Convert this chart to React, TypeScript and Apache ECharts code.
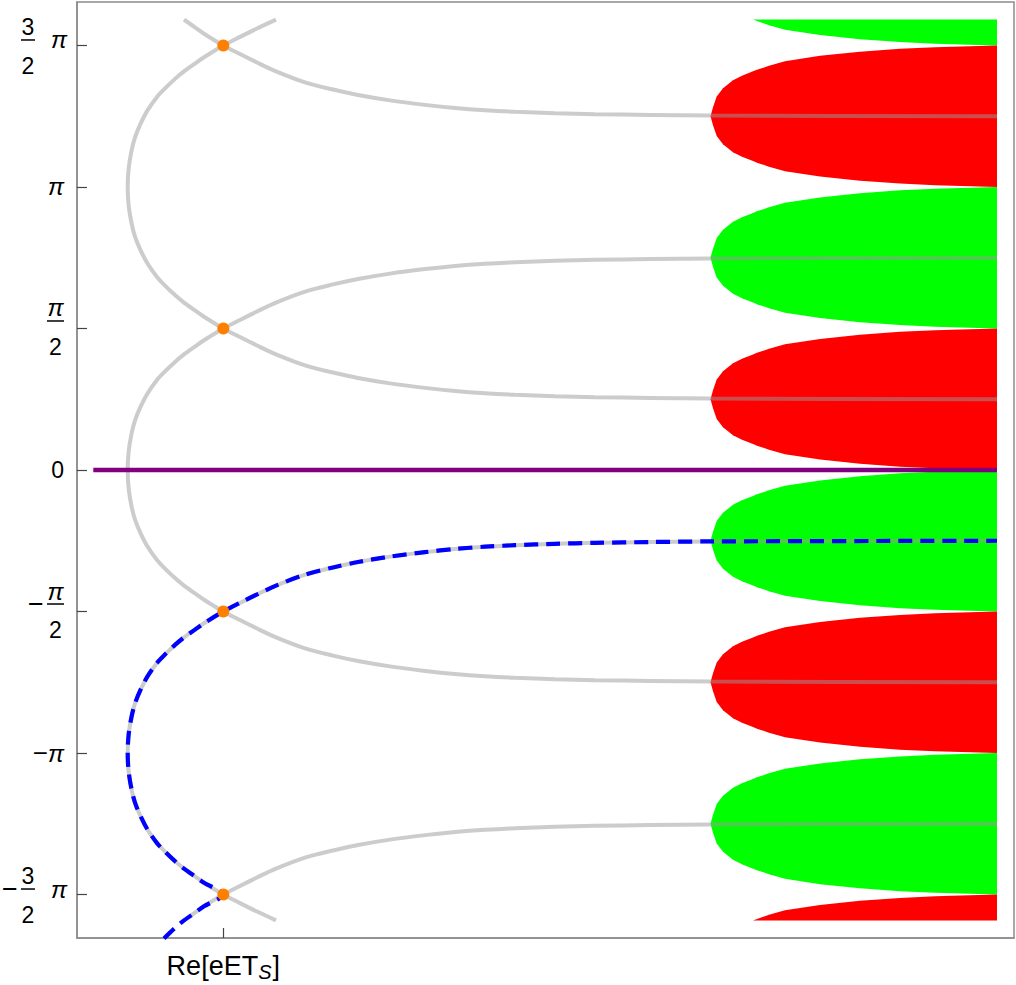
import React, { useEffect, useRef } from 'react';
import * as echarts from 'echarts';

const PI = Math.PI;

// ---- axis ticks / labels ----
const yTickValues = [-1.5 * PI, -PI, -0.5 * PI, 0, 0.5 * PI, PI, 1.5 * PI];
const yTickLabels = ['−3/2 π', '−π', '−π/2', '0', 'π/2', 'π', '3/2 π'];
const xTickValues = [0];
const xTickLabels = ['Re[eET_S]'];

// ---- contour shape: offset from the vertex (rad) -> Re position ----
const contourOffset = [0, 0.2, 0.4, 0.55, 0.7, 0.85, 1.0, 1.083, 1.2, 1.283, 1.37, 1.44, 1.5708, 1.666, 1.76, 1.858, 1.98, 2.06, 2.12, 2.18, 2.23, 2.265, 2.29, 2.307, 2.322, 2.333, 2.342, 2.349, 2.356];
const contourX = [-0.956, -0.947, -0.918, -0.883, -0.828, -0.758, -0.663, -0.593, -0.483, -0.393, -0.283, -0.193, 0, 0.167, 0.337, 0.527, 0.817, 1.097, 1.347, 1.667, 2.017, 2.317, 2.617, 2.917, 3.317, 3.717, 4.267, 4.887, 7.737];

// ---- region band edge: offset from band centre (rad) -> Re position ----
const bandOffset = [0, 0.1, 0.22, 0.31, 0.4, 0.45, 0.498, 0.515, 0.56, 0.61, 0.67, 0.717, 0.748, 0.765, 0.778, 0.785];
const bandX = [4.872, 4.897, 4.934, 4.997, 5.097, 5.187, 5.297, 5.337, 5.457, 5.617, 5.967, 6.367, 6.767, 7.117, 7.467, 7.737];
const bandCenters = [1.75 * PI, 1.25 * PI, 0.75 * PI, 0.25 * PI, -0.25 * PI, -0.75 * PI, -1.25 * PI, -1.75 * PI];
const bandColors = ['#00ff00', '#ff0000', '#00ff00', '#ff0000', '#00ff00', '#ff0000', '#00ff00', '#ff0000'];
const regionLimit = 5;

// contour pieces: vertex (Im), direction, index range into the contour shape
const LAST = contourOffset.length - 1;
const iOf = (t) => contourOffset.findIndex((v) => Math.abs(v - t) < 1e-6);
const grayContours = [
  [{ v: 0, dir: -1, from: LAST, to: 1 }, { v: 0, dir: 1, from: 0, to: LAST }],
  [{ v: PI, dir: -1, from: LAST, to: 1 }, { v: PI, dir: 1, from: 0, to: iOf(1.858) }],
  [{ v: -PI, dir: -1, from: iOf(1.858), to: 1 }, { v: -PI, dir: 1, from: 0, to: LAST }],
  [{ v: 2 * PI, dir: -1, from: iOf(1.283), to: LAST }],
  [{ v: -2 * PI, dir: 1, from: iOf(1.283), to: LAST }],
];
const blueContour = [
  { v: -2 * PI, dir: 1, from: iOf(1.083), to: iOf(1.5708) },
  { v: -PI, dir: -1, from: iOf(1.5708) - 1, to: 1 },
  { v: -PI, dir: 1, from: 0, to: LAST },
];
const saddlePoints = [[0, 1.5 * PI], [0, 0.5 * PI], [0, -0.5 * PI], [0, -1.5 * PI]];
const realLine = [[-1.3, 0], [7.737, 0]];

function buildContour(pieces) {
  const pts = [];
  for (const p of pieces) {
    const step = p.to >= p.from ? 1 : -1;
    for (let i = p.from; step > 0 ? i <= p.to : i >= p.to; i += step) {
      pts.push([contourX[i], p.v + p.dir * contourOffset[i]]);
    }
  }
  return pts;
}

function bandPolygon(m) {
  const pts = [];
  for (let i = bandOffset.length - 1; i >= 0; i--) pts.push([bandX[i], m - bandOffset[i]]);
  for (let i = 1; i < bandOffset.length; i++) pts.push([bandX[i], m + bandOffset[i]]);
  const inside = pts.filter((p) => Math.abs(p[1]) <= regionLimit + 1e-3);
  if (inside.length < pts.length) {
    inside.push([bandX[bandX.length - 1], m > 0 ? regionLimit : -regionLimit]);
  }
  return inside;
}

function richY(s) {
  const neg = s.startsWith('−');
  const body = neg ? s.slice(1) : s;
  if (body.includes('/')) {
    const [num, rest] = body.split('/');
    const parts = rest.split(' ');
    const den = parts[0];
    const trailing = parts[1] || '';
    const piNum = num === 'π';
    const l0 = trailing ? '{sp3|}' : '{sp1|}';
    const tail = trailing ? '{g|}' : '{r|}';
    const l1 = (neg ? '{m|}' : '') + `{${piNum ? 'pn' : 'n'}|${num}}` + tail;
    const l2 = (neg ? '{mm|−}' : '') + `{${piNum ? 'barp' : 'bar'}|}` + (trailing ? `{pi|${trailing}}` : '{r|}');
    const l3 = (neg ? '{m|}' : '') + `{${piNum ? 'dp' : 'd'}|${den}}` + tail;
    return [l0, l1, l2, l3].join('\n');
  }
  if (body === '0') return '{z|0}{r|}';
  return (neg ? '{mx|−}' : '') + `{pis|${body}}{r|}`;
}

function richX(s) {
  const m = s.match(/^(.*)_(.)(.*)$/);
  if (!m) return `{a|${s}}`;
  return `{a|${m[1]}}{s|${m[2]}}{a|${m[3]}}`;
}

const FONT = "'Liberation Sans', Arial, Helvetica, sans-serif";

export default function App() {
  const ref = useRef(null);
  useEffect(() => {
    document.body.style.margin = '0';
    const chart = echarts.init(ref.current, null, { renderer: 'svg' });
    const bandPolys = bandCenters.map(bandPolygon);
    const digit = { fontFamily: FONT, fontSize: 23, color: '#000', align: 'center', verticalAlign: 'middle' };
    const option = {
      animation: false,
      backgroundColor: '#ffffff',
      grid: {
        left: 77, right: 2, top: 2, bottom: 47, show: true,
        borderColor: '#8c8c8c', borderWidth: 1.5,
        containLabel: false, outerBoundsMode: 'none',
      },
      xAxis: {
        type: 'value',
        min: -1.463,
        max: 7.907,
        splitLine: { show: false },
        axisLine: { onZero: false, lineStyle: { color: '#8c8c8c', width: 1.5 } },
        axisTick: { inside: true, length: 10, customValues: xTickValues, lineStyle: { color: '#444', width: 1.2 } },
        axisLabel: {
          customValues: xTickValues,
          margin: 13,
          formatter: (v) => {
            const i = xTickValues.findIndex((t) => Math.abs(t - v) < 1e-6);
            return i >= 0 ? richX(xTickLabels[i]) : '';
          },
          rich: {
            a: { fontFamily: FONT, fontSize: 27, color: '#000', lineHeight: 30, verticalAlign: 'middle' },
            s: { fontFamily: FONT, fontSize: 20, fontStyle: 'italic', color: '#000', lineHeight: 30, verticalAlign: 'middle', padding: [12, 1, 0, 0] },
          },
        },
      },
      yAxis: {
        type: 'value',
        min: -5.195,
        max: 5.195,
        splitLine: { show: false },
        axisLine: { onZero: false, lineStyle: { color: '#8c8c8c', width: 1.5 } },
        axisTick: { inside: true, length: 10, customValues: yTickValues, lineStyle: { color: '#444', width: 1.2 } },
        axisLabel: {
          customValues: yTickValues,
          margin: 10,
          formatter: (v) => {
            const i = yTickValues.findIndex((t) => Math.abs(t - v) < 1e-6);
            return i >= 0 ? richY(yTickLabels[i]) : '';
          },
          rich: {
            sp3: { lineHeight: 15, width: 0 },
            sp1: { lineHeight: 11, width: 0 },
            n: { ...digit, width: 14, lineHeight: 22 },
            d: { ...digit, width: 14, lineHeight: 48 },
            dp: { ...digit, width: 17, lineHeight: 48 },
            pn: { fontFamily: FONT, fontSize: 24, fontStyle: 'italic', color: '#000', width: 17, align: 'center', lineHeight: 22, verticalAlign: 'middle' },
            bar: { width: 14, height: 1.5, backgroundColor: '#000', align: 'center', lineHeight: 4, verticalAlign: 'middle' },
            barp: { width: 17, height: 1.5, backgroundColor: '#000', align: 'center', lineHeight: 4, verticalAlign: 'middle' },
            pi: { fontFamily: FONT, fontSize: 24, fontStyle: 'italic', color: '#000', width: 32, align: 'right', lineHeight: 4, verticalAlign: 'middle' },
            g: { width: 32, align: 'right', lineHeight: 1 },
            r: { width: 3, align: 'right', lineHeight: 1 },
            m: { width: 19, align: 'left', lineHeight: 1 },
            mm: { fontFamily: FONT, fontSize: 27, color: '#000', width: 19, align: 'left', lineHeight: 4, verticalAlign: 'middle' },
            mx: { fontFamily: FONT, fontSize: 26, color: '#000', verticalAlign: 'middle' },
            pis: { fontFamily: FONT, fontSize: 24, fontStyle: 'italic', color: '#000', verticalAlign: 'middle' },
            z: { fontFamily: FONT, fontSize: 23, color: '#000', verticalAlign: 'middle' },
          },
        },
      },
      series: [
        {
          type: 'custom',
          name: 'regions',
          data: bandCenters.map((m) => [bandX[0], m]),
          renderItem: (params, api) => {
            const idx = params.dataIndex;
            return {
              type: 'polygon',
              shape: { points: bandPolys[idx].map((p) => api.coord(p)) },
              style: { fill: bandColors[idx], stroke: null },
            };
          },
          z: 1,
        },
        ...grayContours.map((c) => ({
          type: 'line',
          data: buildContour(c),
          showSymbol: false,
          symbol: 'none',
          smooth: 0.3,
          lineStyle: { color: 'rgba(153,153,153,0.5)', width: 4 },
          z: 2,
        })),
        {
          type: 'line',
          data: realLine,
          symbol: 'none',
          lineStyle: { color: '#800080', width: 4.5 },
          z: 3,
        },
        {
          type: 'line',
          data: buildContour(blueContour),
          symbol: 'none',
          smooth: 0.3,
          lineStyle: { color: '#0000ff', width: 4.2, type: [14, 8] },
          z: 4,
        },
        {
          type: 'scatter',
          data: saddlePoints,
          symbolSize: 12,
          itemStyle: { color: '#ff7f00', opacity: 1 },
          z: 5,
        },
      ],
    };
    chart.setOption(option);
    return () => chart.dispose();
  }, []);
  return <div ref={ref} style={{ width: 1016, height: 985 }} />;
}
